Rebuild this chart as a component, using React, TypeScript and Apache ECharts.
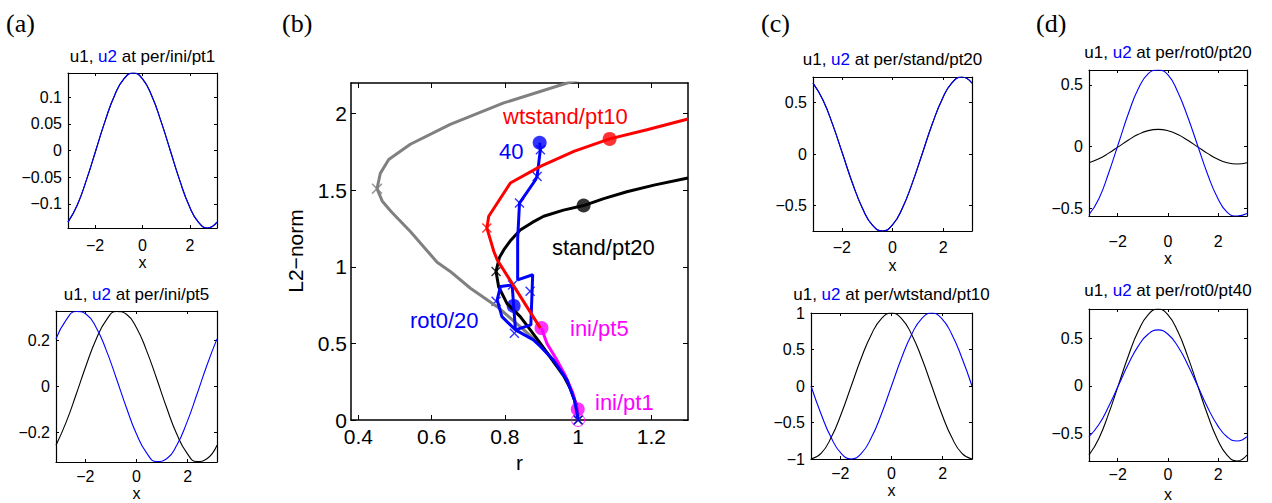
import React, { useEffect, useRef } from "react";
import * as echarts from "echarts";

// ---------- data ----------
const X = [-3.1416, -2.7489, -2.3562, -1.9635, -1.5708, -1.1781, -0.7854, -0.3927, 0, 0.3927, 0.7854, 1.1781, 1.5708, 1.9635, 2.3562, 2.7489, 3.1416];

const iniPt1U1 = [-0.134, -0.102, -0.054, 0.001, 0.056, 0.103, 0.134, 0.145, 0.134, 0.102, 0.054, -0.001, -0.056, -0.103, -0.134, -0.145, -0.134];
const iniPt1U2 = [-0.134, -0.102, -0.054, 0.001, 0.056, 0.103, 0.134, 0.145, 0.134, 0.102, 0.054, -0.001, -0.056, -0.103, -0.134, -0.145, -0.134];
const iniPt5U1 = [-0.257, -0.157, -0.035, 0.093, 0.208, 0.29, 0.328, 0.316, 0.257, 0.157, 0.035, -0.093, -0.208, -0.29, -0.328, -0.316, -0.257];
const iniPt5U2 = [0.208, 0.29, 0.328, 0.316, 0.257, 0.158, 0.035, -0.093, -0.208, -0.29, -0.328, -0.316, -0.257, -0.158, -0.035, 0.093, 0.208];
const standPt20U1 = [0.686, 0.523, 0.279, -0.005, -0.29, -0.53, -0.691, -0.745, -0.686, -0.523, -0.279, 0.005, 0.29, 0.53, 0.691, 0.745, 0.686];
const standPt20U2 = [0.686, 0.523, 0.279, -0.005, -0.29, -0.53, -0.691, -0.745, -0.686, -0.523, -0.279, 0.005, 0.29, 0.53, 0.691, 0.745, 0.686];
const wtstandPt10U1 = [-1, -0.924, -0.707, -0.383, 0, 0.383, 0.707, 0.924, 1, 0.924, 0.707, 0.383, 0, -0.383, -0.707, -0.924, -1];
const wtstandPt10U2 = [0, -0.383, -0.707, -0.924, -1, -0.924, -0.707, -0.383, 0, 0.383, 0.707, 0.924, 1, 0.924, 0.707, 0.383, 0];
const rot0Pt20U1 = [-0.129, -0.098, -0.052, 0.001, 0.054, 0.1, 0.13, 0.14, 0.129, 0.098, 0.052, -0.001, -0.054, -0.1, -0.13, -0.14, -0.129];
const rot0Pt20U2 = [-0.55, -0.42, -0.21, 0.03, 0.27, 0.47, 0.59, 0.62, 0.58, 0.44, 0.24, 0.01, -0.22, -0.41, -0.53, -0.56, -0.54];
const rot0Pt40U1 = [-0.727, -0.552, -0.289, 0.016, 0.321, 0.58, 0.752, 0.81, 0.747, 0.572, 0.309, 0.004, -0.301, -0.56, -0.732, -0.79, -0.727];
const rot0Pt40U2 = [-0.534, -0.406, -0.214, 0.009, 0.233, 0.422, 0.547, 0.59, 0.544, 0.416, 0.224, 0.001, -0.223, -0.412, -0.537, -0.58, -0.534];

// tick labels
const smallXTicks = [-2, 0, 2];
const aTopYTicks = [-0.1, -0.05, 0, 0.05, 0.1];
const aBotYTicks = [-0.2, 0, 0.2];
const cTopYTicks = [-0.5, 0, 0.5];
const cBotYTicks = [-1, -0.5, 0, 0.5, 1];
const dTopYTicks = [-0.5, 0, 0.5];
const dBotYTicks = [-0.5, 0, 0.5];
const bXTicks = [0.4, 0.6, 0.8, 1, 1.2];
const bYTicks = [0, 0.5, 1, 1.5, 2];

// bifurcation diagram (r, L2-norm)
const grayBranch = [[1.3, 2.42], [1.1, 2.29], [0.97, 2.2], [0.797, 2.07], [0.651, 1.93], [0.542, 1.8], [0.483, 1.7], [0.46, 1.61], [0.451, 1.51], [0.465, 1.43], [0.49, 1.36], [0.542, 1.23], [0.615, 1.03], [0.651, 0.97], [0.706, 0.86], [0.779, 0.74], [0.851, 0.59], [0.897, 0.49], [0.933, 0.39], [0.97, 0.26], [0.99, 0.13], [1.0, 0.0]];
const standBranch = [[1.0, 0.0], [0.995, 0.1], [0.98, 0.2], [0.96, 0.29], [0.93, 0.39], [0.897, 0.5], [0.869, 0.59], [0.842, 0.675], [0.806, 0.76], [0.783, 0.87], [0.776, 0.97], [0.785, 1.06], [0.797, 1.11], [0.815, 1.17], [0.842, 1.24], [0.875, 1.29], [0.906, 1.33], [0.96, 1.37], [1.015, 1.4], [1.07, 1.445], [1.133, 1.49], [1.21, 1.535], [1.3, 1.58]];
const wtstandBranch = [[0.897, 0.6], [0.779, 1.046], [0.77, 1.1], [0.751, 1.253], [0.756, 1.33], [0.815, 1.547], [0.897, 1.656], [0.99, 1.755], [1.086, 1.835], [1.188, 1.895], [1.3, 1.965]];
const rot0Branch = [[1.0, 0.0], [0.997, 0.05], [0.99, 0.13], [0.97, 0.26], [0.933, 0.39], [0.897, 0.48], [0.878, 0.523], [0.829, 0.588], [0.792, 0.675], [0.779, 0.784], [0.788, 0.871], [0.82, 0.882], [0.824, 0.745], [0.829, 0.588], [0.871, 0.621], [0.876, 0.948], [0.835, 0.915], [0.835, 1.18], [0.84, 1.416], [0.883, 1.565], [0.888, 1.59], [0.897, 1.765], [0.895, 1.81]];
const iniBranch = [[0.9, 0.6], [0.915, 0.5], [0.94, 0.4], [0.965, 0.29], [0.985, 0.18], [0.997, 0.08], [1.0, 0.0]];
const grayCross = [[0.451, 1.51]];
const standCross = [[0.776, 0.97], [1.0, 0.0]];
const wtstandCross = [[0.751, 1.253]];
const rot0Cross = [[0.776, 0.775], [0.826, 0.567], [0.869, 0.84], [0.821, 0.882], [0.84, 1.416], [0.888, 1.59], [0.897, 1.765], [1.0, 0.0]];
const standDot = [[1.015, 1.4]];
const wtstandDot = [[1.086, 1.835]];
const rot0Dot = [[0.824, 0.745], [0.895, 1.81]];
const iniDot = [[0.9, 0.6], [0.999, 0.07]];
const iniStart = [[1.0, 0.0]];

// ---------- styling ----------
const FONT = '"Liberation Sans", Arial, Helvetica, sans-serif';
const SERIF = '"Liberation Serif", "DejaVu Serif", serif';
const BLUE = "#0000ff";
const RED = "#ff0000";
const MAGENTA = "#ff00ff";
const GRAY = "#808080";
const CROSS = "path://M1,0 L5,4 L9,0 L10,1 L6,5 L10,9 L9,10 L5,6 L1,10 L0,9 L4,5 L0,1 Z";

const fmt = (v: number) => (v < 0 ? "\u2212" + String(-v) : String(v));

type Cfg = {
  box: { left: number; top: number; width: number; height: number };
  xMin: number; xMax: number; yMin: number; yMax: number;
  xTicks: number[]; yTicks: number[];
  fs: number; xMargin: number; yMargin: number; xName: string; xNameGap: number;
  lw: number; tickLen: number;
};

const smallPanels = [
  { box: { left: 68, top: 73, width: 149, height: 155 }, y: [-0.145, 0.145], yTicks: aTopYTicks, u1: iniPt1U1, u2: iniPt1U2, name: "per/ini/pt1", ty: 56, xMargin: 9, xNameGap: 26 },
  { box: { left: 56, top: 311, width: 161, height: 151 }, y: [-0.33, 0.33], yTicks: aBotYTicks, u1: iniPt5U1, u2: iniPt5U2, name: "per/ini/pt5", ty: 294, xMargin: 6, xNameGap: 23 },
  { box: { left: 813, top: 77, width: 159, height: 154 }, y: [-0.745, 0.745], yTicks: cTopYTicks, u1: standPt20U1, u2: standPt20U2, name: "per/stand/pt20", ty: 59, xMargin: 8, xNameGap: 26 },
  { box: { left: 811, top: 313, width: 161, height: 146 }, y: [-1, 1], yTicks: cBotYTicks, u1: wtstandPt10U1, u2: wtstandPt10U2, name: "per/wtstand/pt10", ty: 294, xMargin: 6, xNameGap: 23 },
  { box: { left: 1089, top: 70, width: 158, height: 146 }, y: [-0.56, 0.62], yTicks: dTopYTicks, u1: rot0Pt20U1, u2: rot0Pt20U2, name: "per/rot0/pt20", ty: 52, xMargin: 17, xNameGap: 34 },
  { box: { left: 1089, top: 309, width: 158, height: 154 }, y: [-0.79, 0.81], yTicks: dBotYTicks, u1: rot0Pt40U1, u2: rot0Pt40U2, name: "per/rot0/pt40", ty: 290, xMargin: 5, xNameGap: 25 },
];

export default function App() {
  const ref = useRef<HTMLDivElement>(null);
  useEffect(() => {
    const chart = echarts.init(ref.current!, null, { renderer: "svg" });
    const grid: any[] = [];
    const xAxis: any[] = [];
    const yAxis: any[] = [];
    const series: any[] = [];
    const graphic: any[] = [];

    const addAxes = (i: number, c: Cfg) => {
      grid.push({ ...c.box, show: false });
      const lineStyle = { color: "#000", width: c.lw };
      const tick = (vals: number[]) => ({ show: true, inside: true, length: c.tickLen, customValues: vals, lineStyle: { color: "#000", width: 1 } });
      const lab = (vals: number[], margin: number) => ({ show: true, customValues: vals, formatter: fmt, fontSize: c.fs, fontFamily: FONT, color: "#000", margin });
      const base = { type: "value", gridIndex: i, splitLine: { show: false }, axisLine: { show: true, onZero: false, lineStyle } };
      xAxis.push({ ...base, position: "bottom", min: c.xMin, max: c.xMax, axisTick: tick(c.xTicks), axisLabel: lab(c.xTicks, c.xMargin), name: c.xName, nameLocation: "middle", nameGap: c.xNameGap, nameTextStyle: { fontSize: c.fs, fontFamily: FONT, color: "#000" } });
      xAxis.push({ ...base, position: "top", min: c.xMin, max: c.xMax, axisTick: tick(c.xTicks), axisLabel: { show: false } });
      yAxis.push({ ...base, position: "left", min: c.yMin, max: c.yMax, axisTick: tick(c.yTicks), axisLabel: lab(c.yTicks, c.yMargin) });
      yAxis.push({ ...base, position: "right", min: c.yMin, max: c.yMax, axisTick: tick(c.yTicks), axisLabel: { show: false } });
    };

    let gi = 0;
    smallPanels.forEach((p) => {
      addAxes(gi, { box: p.box, xMin: -3.1416, xMax: 3.1416, yMin: p.y[0], yMax: p.y[1], xTicks: smallXTicks, yTicks: p.yTicks, fs: 16, xMargin: p.xMargin, yMargin: 6, xName: "x", xNameGap: p.xNameGap, lw: 1.2, tickLen: 3 });
      const idx = { xAxisIndex: 2 * gi, yAxisIndex: 2 * gi };
      series.push({ type: "line", ...idx, data: X.map((x, k) => [x, p.u1[k]]), smooth: true, showSymbol: false, symbol: "none", lineStyle: { color: "#000", width: 1.1 }, silent: true });
      series.push({ type: "line", ...idx, data: X.map((x, k) => [x, p.u2[k]]), smooth: true, showSymbol: false, symbol: "none", lineStyle: { color: BLUE, width: 1.1 }, silent: true });
      graphic.push({
        type: "text", x: p.box.left + p.box.width / 2, y: p.ty,
        style: {
          text: "{k|u1, }{b|u2}{k| at " + p.name + "}",
          align: "center", verticalAlign: "middle",
          rich: {
            k: { fill: "#000", color: "#000", fontSize: 17, fontFamily: FONT },
            b: { fill: BLUE, color: BLUE, fontSize: 17, fontFamily: FONT },
          },
        },
      });
      gi++;
    });

    // panel (b)
    const bi = gi;
    addAxes(bi, { box: { left: 351, top: 83, width: 337, height: 337 }, xMin: 0.38, xMax: 1.3, yMin: 0, yMax: 2.2, xTicks: bXTicks, yTicks: bYTicks, fs: 21, xMargin: 6, yMargin: 4, xName: "r", xNameGap: 28, lw: 1.5, tickLen: 5 });
    const bIdx = { xAxisIndex: 2 * bi, yAxisIndex: 2 * bi };
    const bLine = (data: number[][], color: string) => ({ type: "line", ...bIdx, data, showSymbol: false, symbol: "none", lineStyle: { color, width: 3 }, silent: true, clip: true });
    const bMark = (data: number[][], color: string, symbol: string, size: number) => ({ type: "scatter", ...bIdx, data, symbol, symbolSize: size, itemStyle: { color }, silent: true });
    series.push(bLine(grayBranch, GRAY));
    series.push(bLine(standBranch, "#000"));
    series.push(bLine(iniBranch, MAGENTA));
    series.push(bLine(rot0Branch, BLUE));
    series.push(bLine(wtstandBranch, RED));
    series.push(bMark(grayCross, GRAY, CROSS, 11));
    series.push(bMark(standCross, "#000", CROSS, 10));
    series.push(bMark(wtstandCross, RED, CROSS, 10));
    series.push(bMark(rot0Cross, BLUE, CROSS, 10));
    series.push(bMark(standDot, "#000", "circle", 14));
    series.push(bMark(wtstandDot, RED, "circle", 14));
    series.push(bMark(rot0Dot, BLUE, "circle", 14));
    series.push(bMark(iniDot, MAGENTA, "circle", 14));
    series.push({ type: "scatter", ...bIdx, data: iniStart, symbol: "circle", symbolSize: 13, itemStyle: { color: "rgba(0,0,0,0)", borderColor: MAGENTA, borderWidth: 1 }, silent: true });

    const bText = (text: string, x: number, y: number, fill: string) => ({ type: "text", x, y, style: { text, fill, fontSize: 22, fontFamily: FONT, align: "left", verticalAlign: "middle" } });
    graphic.push(bText("wtstand/pt10", 503, 116, RED));
    graphic.push(bText("40", 499, 151, BLUE));
    graphic.push(bText("stand/pt20", 552, 247, "#000"));
    graphic.push(bText("rot0/20", 410, 320, BLUE));
    graphic.push(bText("ini/pt5", 570, 328, MAGENTA));
    graphic.push(bText("ini/pt1", 595, 402, MAGENTA));
    graphic.push({ type: "text", x: 295, y: 251, rotation: Math.PI / 2, style: { text: "L2\u2212norm", fill: "#000", fontSize: 21, fontFamily: FONT, align: "center", verticalAlign: "middle" } });

    const panelLabel = (text: string, x: number) => ({ type: "text", x, y: 10, style: { text, fill: "#000", fontSize: 26, fontFamily: SERIF, align: "left", verticalAlign: "top" } });
    graphic.push(panelLabel("(a)", 6));
    graphic.push(panelLabel("(b)", 282));
    graphic.push(panelLabel("(c)", 761));
    graphic.push(panelLabel("(d)", 1036));

    chart.setOption({ animation: false, backgroundColor: "#fff", grid, xAxis, yAxis, series, graphic });
    return () => chart.dispose();
  }, []);
  return <div ref={ref} style={{ position: "absolute", left: 0, top: 0, width: 1272, height: 503 }} />;
}
